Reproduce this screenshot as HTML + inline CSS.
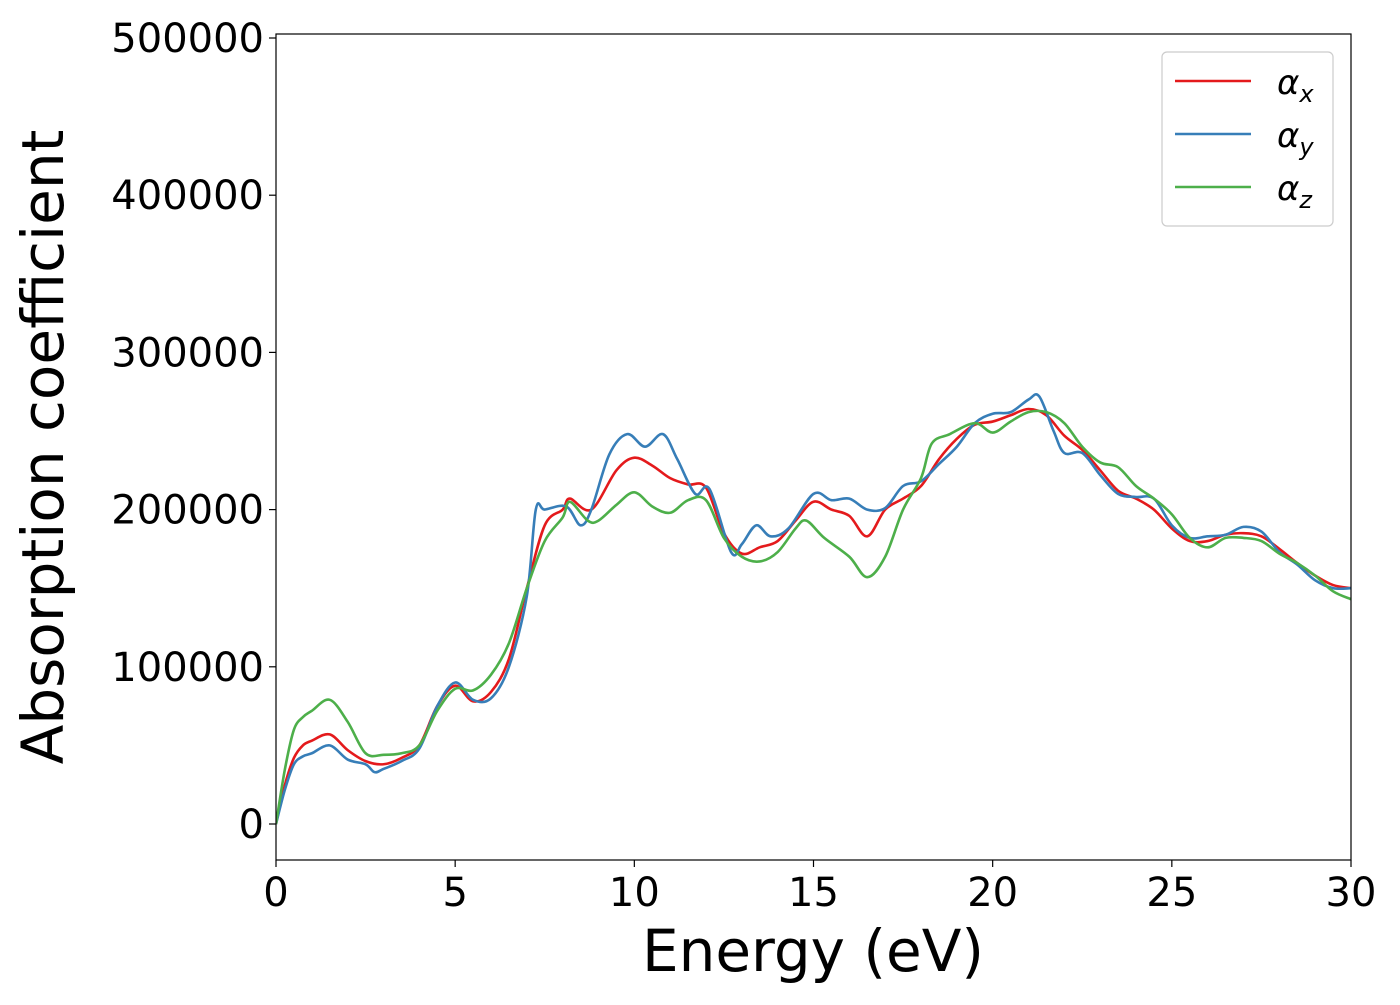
<!DOCTYPE html>
<html><head><meta charset="utf-8"><style>
body{margin:0;background:#fff;}
svg text{font-family:"DejaVu Sans","Liberation Sans",sans-serif;fill:#000;}
</style></head><body>
<svg id="chart" width="1400" height="1000">
<rect x="0" y="0" width="1400" height="1000" fill="#fff"/>
<g id="plot"></g>
</svg>
<script>
const xTicks=[0,5,10,15,20,25,30];
const yTicks=[0,100000,200000,300000,400000,500000];
const xRed=[0,0.25,0.5,0.75,1,1.5,2,2.5,3,3.5,4,4.5,5,5.5,6,6.5,7,7.5,8,8.2,8.8,9.5,10,10.5,11,11.5,12,12.5,13,13.5,14,14.5,15,15.5,16,16.5,17,17.5,18,18.5,19,19.5,20,20.5,21,21.5,22,22.5,23,23.5,24,24.5,25,25.5,26,26.5,27,27.5,28,28.5,29,29.5,30];
const yRed=[0,25000,42000,50000,53000,57000,47000,40000,38000,42000,50000,75000,88000,78000,84000,105000,150000,190000,200000,207000,200000,225000,233000,228000,220000,216000,214000,185000,172000,176000,180000,193000,205000,200000,196000,183000,200000,207000,215000,232000,245000,254000,256000,260000,264000,260000,247000,238000,225000,212000,207000,200000,188000,180000,180000,184000,185000,183000,175000,166000,158000,152000,150000];
const xBlue=[0,0.25,0.5,0.75,1,1.5,2,2.5,2.75,3,3.5,4,4.5,5,5.5,6,6.5,7,7.25,7.5,8.1,8.5,8.8,9.3,9.8,10.3,10.8,11.2,11.7,12.1,12.7,13,13.4,13.8,14.3,15,15.5,16,16.5,17,17.5,18,18.5,19,19.5,20,20.5,21,21.3,21.7,22,22.5,23,23.5,24,24.5,25,25.5,26,26.5,27,27.5,28,28.5,29,29.5,30];
const yBlue=[0,22000,38000,43000,45000,50000,41000,38000,33000,35000,40000,48000,75000,90000,79000,80000,100000,145000,200000,200000,202000,190000,200000,235000,248000,240000,248000,232000,210000,213000,173000,178000,190000,183000,188000,210000,206000,207000,200000,201000,215000,218000,229000,240000,255000,261000,262000,270000,272000,250000,236000,236000,222000,210000,208000,207000,190000,182000,183000,184000,189000,186000,173000,165000,155000,150000,150000];
const xGreen=[0,0.25,0.5,0.75,1,1.5,2,2.5,3,3.5,4,4.5,5,5.5,6,6.5,7,7.5,8,8.2,8.7,9,9.5,10,10.5,11,11.5,12,12.5,13,13.5,14,14.5,14.8,15.3,16,16.5,17,17.5,18,18.3,18.8,19.5,20,20.5,21,21.5,22,22.5,23,23.5,24,24.5,25,25.5,26,26.5,27,27.5,28,28.5,29,29.5,30];
const yGreen=[0,35000,60000,68000,72000,79000,65000,45000,44000,45000,50000,72000,86000,85000,95000,115000,150000,180000,195000,205000,193000,193000,203000,211000,202000,198000,206000,206000,182000,170000,167000,173000,188000,193000,182000,170000,157000,170000,200000,220000,242000,248000,255000,249000,256000,262000,262000,255000,240000,230000,227000,215000,207000,197000,182000,176000,182000,182000,180000,172000,166000,158000,148000,143000];

const L=276,R=1351,T=34,B=860;
const sx=v=>L+(v-0)/30*(R-L);
const sy=v=>824-v/100000*157.2;
const NS="http://www.w3.org/2000/svg";
const g=document.getElementById('plot');
function mk(tag,attrs,parent){const e=document.createElementNS(NS,tag);for(const k in attrs)e.setAttribute(k,attrs[k]);(parent||g).appendChild(e);return e;}
function smooth(xs,ys){
  const p=xs.map((x,i)=>[sx(x),sy(ys[i])]);
  let d=`M${p[0][0]},${p[0][1]}`;
  for(let i=0;i<p.length-1;i++){
    const p0=p[i-1]||p[i],p1=p[i],p2=p[i+1],p3=p[i+2]||p2;
    const c1=[p1[0]+(p2[0]-p0[0])/6,p1[1]+(p2[1]-p0[1])/6];
    const c2=[p2[0]-(p3[0]-p1[0])/6,p2[1]-(p3[1]-p1[1])/6];
    d+=`C${c1[0]},${c1[1]} ${c2[0]},${c2[1]} ${p2[0]},${p2[1]}`;
  }
  return d;
}
const series=[['alpha-x',xRed,yRed,'#e41a1c'],['alpha-y',xBlue,yBlue,'#377eb8'],['alpha-z',xGreen,yGreen,'#4daf4a']];
const clip=mk('clipPath',{id:'pc'});mk('rect',{x:L,y:T,width:R-L,height:B-T},clip);
series.forEach(s=>{
  const e=mk('path',{d:smooth(s[1],s[2]),fill:'none',stroke:s[3],'stroke-width':2.6,'clip-path':'url(#pc)'});
  
  
});
const frame=mk('rect',{x:L,y:T,width:R-L,height:B-T,fill:'none',stroke:'#000','stroke-width':1.2});


xTicks.forEach(v=>{
  mk('line',{x1:sx(v),x2:sx(v),y1:B,y2:B+7,stroke:'#000','stroke-width':1.2});
  const t=mk('text',{x:sx(v),y:906,'text-anchor':'middle','font-size':40});t.textContent=v;
  
  
});
yTicks.forEach(v=>{
  mk('line',{x1:L-7,x2:L,y1:sy(v),y2:sy(v),stroke:'#000','stroke-width':1.2});
  const t=mk('text',{x:264,y:sy(v)+14,'text-anchor':'end','font-size':40});t.textContent=v;
  
  
});
const xl=mk('text',{x:813,y:971,'text-anchor':'middle','font-size':58});xl.textContent='Energy (eV)';


const yl=mk('text',{x:0,y:0,'text-anchor':'middle','font-size':58,transform:'translate(63,447) rotate(-90)'});yl.textContent='Absorption coefficient';


const lg=mk('g',{});


mk('rect',{x:1162,y:52,width:171,height:174,rx:5,fill:'#fff',stroke:'#ccc','stroke-width':1.2},lg);
const labs=['x','y','z'];
series.forEach((s,i)=>{
  const y=81+i*53;
  const ln=mk('line',{x1:1175,x2:1251,y1:y,y2:y,stroke:s[3],'stroke-width':2.6},lg);
  
  
  const t=mk('text',{x:1277,y:y+13,'font-size':34,'font-style':'italic'},lg);
  t.innerHTML='α<tspan font-size="24" dy="8">'+labs[i]+'</tspan>';
  
  
});
</script>
</body></html>
